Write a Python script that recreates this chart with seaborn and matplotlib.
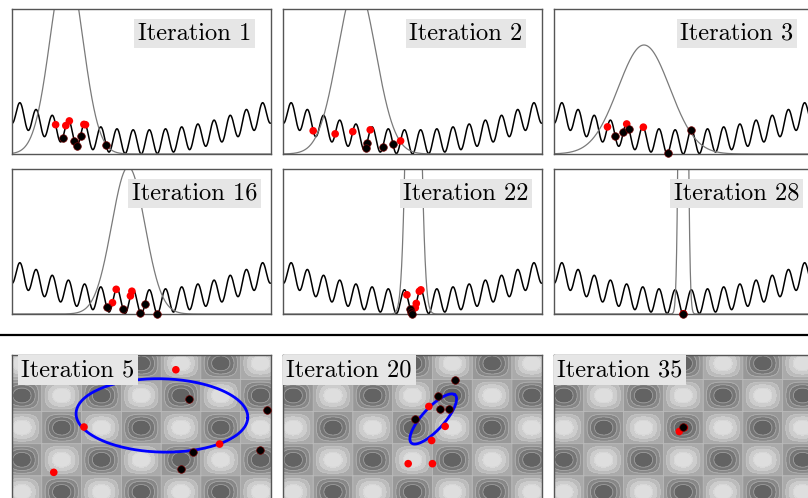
import numpy as np
import matplotlib
matplotlib.use("Agg")
import matplotlib.pyplot as plt
from matplotlib.lines import Line2D
import seaborn as sns

# ---- 1-D runs: objective f(x) = x^2 + 25 (1 - cos 2 pi x) on [-8, 8] ----
iters_1d = [1, 2, 3, 16, 22, 28]
gauss_mean = [-4.63, -3.46, -2.43, -0.80, 0.06, 0.0]
gauss_sd = [1.0, 1.18, 1.6, 1.03, 0.33, 0.17]
gauss_peak = [400, 352, 226, 305, 1200, 2400]

red_x = [
    [-5.30, -4.67, -4.45, -3.55, -3.45],
    [-6.15, -4.79, -3.70, -2.62, -0.74],
    [-4.69, -3.50, -2.47],
    [-1.55, -0.58, -0.67, -1.78],
    [-0.35, 0.42, 0.52, 0.23, 0.17],
    [0.0, 0.02],
]
black_x = [
    [-4.86, -4.14, -4.00, -3.76, -2.17],
    [-2.82, -2.90, -1.84, -1.21],
    [-4.22, -3.71, -3.36, -0.97, 0.47],
    [-2.14, -1.14, -0.08, 0.22, 0.99],
    [-0.15, -0.09, -0.03],
    [0.0],
]

# ---- 2-D runs: checkerboard landscape, search ellipse and samples ----
iters_2d = [5, 20, 35]
ell_center = [(0.52, 0.38), (0.52, 0.27), None]
ell_axes = [(2.16, 1.14), (0.93, 0.30), None]
ell_angle = [-2.0, 55.0, None]
red_2d_x = [[0.87, -1.44, 1.97, -2.20], [0.41, 0.82, 0.48, -0.11, 0.50], [-0.10, 0.03]]
red_2d_y = [[1.80, 0.02, -0.51, -1.39], [0.66, 0.04, -0.40, -1.12, -1.12], [-0.12, 0.0]]
black_2d_x = [[1.20, 3.17, 1.30, 2.99, 0.99], [1.07, 0.63, 0.70, 0.92, 0.07], [0.0]]
black_2d_y = [[0.89, 0.56, -0.75, -0.70, -1.30], [1.47, 0.99, 0.59, 0.59, 0.27], [0.02]]


def f1d(x):
    x = np.asarray(x, dtype=float)
    return x ** 2 + 25.0 * (1.0 - np.cos(2 * np.pi * x))


sns.set_theme(style="white")
plt.rcParams["font.family"] = ["DejaVu Sans"]

W, H = 808, 498
fig = plt.figure(figsize=(W / 100, H / 100), dpi=100)
fig.patch.set_facecolor("white")

PW, PH = 258.5, 144.7
cols = [12.0, 283.3, 554.0]
rows_top = [9.3, 169.3]
row_bottom = 355.3


def add_panel(x0, y0):
    ax = fig.add_axes([x0 / W, 1 - (y0 + PH) / H, PW / W, PH / H])
    ax.set_xticks([])
    ax.set_yticks([])
    for s in ax.spines.values():
        s.set_color("#555555")
        s.set_linewidth(1.0)
    return ax


label_kw = dict(fontsize=17.6, family="cmr10", color="black",
                bbox=dict(boxstyle="square,pad=0.15", fc="#e6e6e6", ec="none"))

xs = np.linspace(-8, 8, 2000)
for i, it in enumerate(iters_1d):
    ax = add_panel(cols[i % 3], rows_top[i // 3])
    sns.lineplot(x=xs, y=f1d(xs), ax=ax, color="black", lw=1.1,
                 sort=False, estimator=None)
    g = gauss_peak[i] * np.exp(-0.5 * ((xs - gauss_mean[i]) / gauss_sd[i]) ** 2)
    sns.lineplot(x=xs, y=g, ax=ax, color="#7a7a7a", lw=0.9,
                 sort=False, estimator=None)
    rx = np.array(red_x[i])
    bx = np.array(black_x[i])
    sns.scatterplot(x=rx, y=f1d(rx), ax=ax, color="red", s=30,
                    edgecolor="none", zorder=5, clip_on=False)
    sns.scatterplot(x=bx, y=f1d(bx), ax=ax, color="black", s=30,
                    edgecolor="#700000", linewidth=0.5, zorder=6, clip_on=False)
    ax.set_xlim(-8, 8)
    ax.set_ylim(0, 300)
    ax.text(0.707, 0.832, f"Iteration {it}", transform=ax.transAxes,
            ha="center", va="center", **label_kw)

# separator between the 1-D and 2-D rows
fig.add_artist(Line2D([0, 1], [1 - 334.5 / H] * 2, transform=fig.transFigure,
                      color="black", lw=1.6))

gx = np.linspace(-3.4, 3.4, 400)
gy = np.linspace(-2.4, 2.4, 300)
GX, GY = np.meshgrid(gx, gy)
Z = -np.cos(np.pi * GX) * np.cos(np.pi * GY)
levels = np.linspace(-1, 1, 9)
t = np.linspace(0, 2 * np.pi, 300)

for i, it in enumerate(iters_2d):
    ax = add_panel(cols[i], row_bottom)
    ax.contourf(GX, GY, Z, levels=levels, cmap="gray", vmin=-2.3, vmax=1.35)
    ax.contour(GX, GY, Z, levels=levels[1:-1], colors="#cccccc", linewidths=0.6,
               linestyles="solid", negative_linestyles="solid", alpha=0.45)
    if ell_center[i] is not None:
        cx, cy = ell_center[i]
        a, b = ell_axes[i]
        th = np.deg2rad(ell_angle[i])
        ex = cx + a * np.cos(t) * np.cos(th) - b * np.sin(t) * np.sin(th)
        ey = cy + a * np.cos(t) * np.sin(th) + b * np.sin(t) * np.cos(th)
        sns.lineplot(x=ex, y=ey, ax=ax, color="#0000ff", lw=2.0,
                     sort=False, estimator=None, zorder=4)
    sns.scatterplot(x=red_2d_x[i], y=red_2d_y[i], ax=ax, color="red", s=30,
                    edgecolor="none", zorder=5)
    sns.scatterplot(x=black_2d_x[i], y=black_2d_y[i], ax=ax, color="black", s=30,
                    edgecolor="#700000", linewidth=0.5, zorder=6)
    ax.set_xlim(-3.25, 3.25)
    ax.set_ylim(-2.25, 2.25)
    ax.text(0.255, 0.898, f"Iteration {it}", transform=ax.transAxes,
            ha="center", va="center", zorder=10, **label_kw)

fig.savefig("out.png", dpi=100)
